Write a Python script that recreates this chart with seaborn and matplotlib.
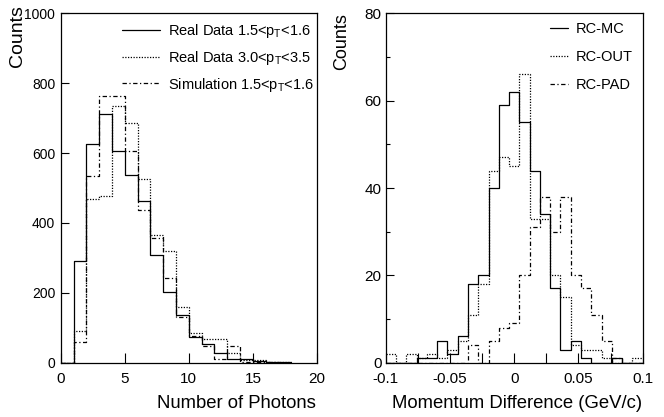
import numpy as np
import pandas as pd
import matplotlib
matplotlib.use("Agg")
import matplotlib.pyplot as plt
import seaborn as sns

# ---------------- data ----------------
# Left panel: number of photons, unit bins starting at 0
photon_edges = list(range(0, 19))
real_low = [0, 292, 627, 713, 607, 538, 464, 308, 201, 136, 73, 54, 27, 12, 12, 6, 2, 1]
real_high = [0, 92, 469, 478, 734, 686, 525, 365, 319, 159, 84, 67, 67, 27, 9, 8, 3, 1]
sim_low = [0, 60, 533, 764, 764, 607, 437, 356, 242, 132, 75, 49, 10, 48, 3, 3, 1, 0]
left_labels = [r"Real Data 1.5<$p_{\mathrm{T}}$<1.6",
               r"Real Data 3.0<$p_{\mathrm{T}}$<3.5",
               r"Simulation 1.5<$p_{\mathrm{T}}$<1.6"]

# Right panel: momentum difference, 25 bins from -0.1 to 0.1
mom_lo, mom_hi, mom_nbins = -0.1, 0.1, 25
rc_mc = [0, 0, 0, 1, 1, 5, 2, 6, 18, 20, 40, 59, 62, 55, 44, 34, 17, 3, 5, 1, 0, 0, 1, 0, 0]
rc_out = [2, 0, 2, 1, 2, 1, 3, 5, 11, 18, 44, 47, 45, 66, 33, 33, 20, 15, 4, 3, 3, 1, 0, 0, 1]
rc_pad = [0, 0, 0, 0, 0, 0, 0, 0, 4, 0, 5, 8, 9, 20, 31, 38, 30, 38, 20, 17, 11, 5, 1, 0, 0]
right_labels = ["RC-MC", "RC-OUT", "RC-PAD"]

left_xticks = [0, 5, 10, 15, 20]
left_yticks = [0, 200, 400, 600, 800, 1000]
right_xticks = [-0.1, -0.075, -0.05, -0.025, 0, 0.025, 0.05, 0.075, 0.1]
right_xticklabels = ["-0.1", "", "-0.05", "", "0", "", "0.05", "", "0.1"]
right_yticks = [0, 20, 40, 60, 80]
right_yminor = [10, 30, 50, 70]

# ---------------- style ----------------
sns.set_style("white")
plt.rcParams["font.family"] = ["Liberation Sans", "DejaVu Sans"]
plt.rcParams["mathtext.fontset"] = "custom"
plt.rcParams["mathtext.rm"] = "Liberation Sans"
plt.rcParams["mathtext.it"] = "Liberation Sans"
plt.rcParams["mathtext.default"] = "regular"
for k in ["text.color", "axes.labelcolor", "xtick.color", "ytick.color", "axes.edgecolor"]:
    plt.rcParams[k] = "black"

styles = ["-", (0, (1, 1.2)), (0, (3.5, 2, 1, 2))]
W, H = 664, 417
fig = plt.figure(figsize=(W / 100, H / 100), dpi=100)
ax1 = fig.add_axes([60.7 / W, 1 - 362.7 / H, 256.3 / W, 349.4 / H])
ax2 = fig.add_axes([385.7 / W, 1 - 362.7 / H, 257.0 / W, 349.4 / H])

LW = 0.9

# left histograms
pe = [float(e) for e in photon_edges]
pc = [(a + b) / 2 for a, b in zip(pe[:-1], pe[1:])]
for vals, ls, lab in zip([real_low, real_high, sim_low], styles, left_labels):
    df = pd.DataFrame({"x": pc, "w": [float(v) for v in vals]})
    sns.histplot(data=df, x="x", weights="w", bins=pe, element="step", fill=False,
                 color="black", linewidth=LW, linestyle=ls, label=lab, ax=ax1)

# right histograms
me = [float(v) for v in np.linspace(mom_lo, mom_hi, mom_nbins + 1)]
mc = [(a + b) / 2 for a, b in zip(me[:-1], me[1:])]
for vals, ls, lab in zip([rc_mc, rc_out, rc_pad], styles, right_labels):
    df = pd.DataFrame({"x": mc, "w": [float(v) for v in vals]})
    sns.histplot(data=df, x="x", weights="w", bins=me, element="step", fill=False,
                 color="black", linewidth=LW, linestyle=ls, label=lab, ax=ax2)

# axes formatting
ax1.set_xlim(0, 20)
ax1.set_ylim(0, 1000)
ax1.set_xticks(left_xticks)
ax1.set_yticks(left_yticks)
ax1.tick_params(axis="x", bottom=True, direction="in", length=7, width=0.8, labelsize=11, pad=7)
ax1.tick_params(axis="y", left=True, direction="in", length=5.5, width=0.8, labelsize=10, pad=4)

ax2.set_xlim(-0.1, 0.1)
ax2.set_ylim(0, 80)
ax2.set_xticks(right_xticks)
ax2.set_xticklabels(right_xticklabels)
ax2.set_yticks(right_yticks)
ax2.set_yticks(right_yminor, minor=True)
ax2.tick_params(axis="x", bottom=True, direction="in", length=7, width=0.8, labelsize=11, pad=7)
ax2.tick_params(axis="y", which="major", left=True, direction="in", length=5.5, width=0.8, labelsize=11, pad=3)
ax2.tick_params(axis="y", which="minor", left=True, direction="in", length=3, width=0.8)

for ax in (ax1, ax2):
    ax.set_xlabel("")
    ax.set_ylabel("")
    for s in ax.spines.values():
        s.set_visible(True)
        s.set_color("black")
        s.set_linewidth(0.9)

# legends
leg1 = ax1.legend(loc="upper left", bbox_to_anchor=(0.238, 0.975), frameon=False,
                  fontsize=10.5, handlelength=2.6, handletextpad=0.6,
                  labelspacing=0.6, borderpad=0, borderaxespad=0)
leg2 = ax2.legend(loc="upper left", bbox_to_anchor=(0.639, 0.975), frameon=False,
                  fontsize=10.5, handlelength=1.25, handletextpad=0.5,
                  labelspacing=0.95, borderpad=0, borderaxespad=0)

# axis titles
fig.text(17.5 / W, 1 - 5 / H, "Counts", rotation=90, ha="center", va="top", fontsize=14)
fig.text(342 / W, 1 - 13 / H, "Counts", rotation=90, ha="center", va="top", fontsize=13)
fig.text(316 / W, 1 - 404 / H, "Number of Photons", ha="right", va="center", fontsize=13.3)
fig.text(642 / W, 1 - 404 / H, "Momentum Difference (GeV/c)", ha="right", va="center", fontsize=13.3)

fig.savefig("out.png", dpi=100)
